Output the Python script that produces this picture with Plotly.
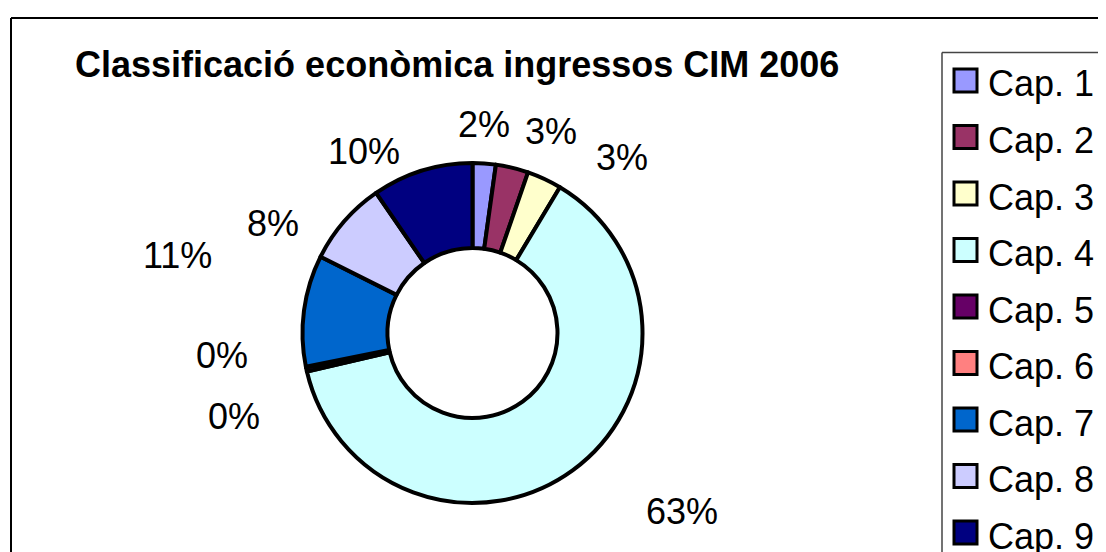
import plotly.graph_objects as go

# dades del gràfic
capitols = ['Cap. 1', 'Cap. 2', 'Cap. 3', 'Cap. 4', 'Cap. 5',
            'Cap. 6', 'Cap. 7', 'Cap. 8', 'Cap. 9']
ingressos = [2.2, 3.1, 3.3, 62.8, 0.4, 0.05, 10.6, 8.0, 9.6]
colors = ['#9999FF', '#993366', '#FFFFCC', '#CCFFFF', '#660066',
          '#FF8080', '#0066CC', '#CCCCFF', '#000080']
titol = 'Classificació econòmica ingressos CIM 2006'

# la pàgina deixa 8px de marge al body, així que la figura és una mica més petita
W, H = 1106, 552
OFF = 8
FW, FH = W - OFF, H - OFF
FONT = 'Arial, Liberation Sans, sans-serif'

def px(x):
    return (x - OFF) / FW

def py(y):
    return 1 - (y - OFF) / FH

# on Excel va deixar les etiquetes (centre del text, en píxels de la pantalla)
label_pos = [(484, 124), (551, 132), (622, 157), (682, 511), (234, 416),
             (222, 355), (178, 255), (273, 224), (364, 152)]

cx, cy, r = 472.5, 333, 170

fig = go.Figure(go.Pie(
    labels=capitols,
    values=ingressos,
    sort=False,
    direction='clockwise',
    rotation=0,
    hole=0.5,
    textinfo='none',
    hoverinfo='label+percent',
    marker=dict(colors=colors, line=dict(color='black', width=4)),
    domain=dict(x=[px(cx - r), px(cx + r)], y=[py(cy + r), py(cy - r)]),
    showlegend=False,
))

total = sum(ingressos)
annotations = []
for v, (lx, ly) in zip(ingressos, label_pos):
    annotations.append(dict(
        x=px(lx), y=py(ly), xref='paper', yref='paper',
        text=f'{round(v / total * 100)}%', showarrow=False,
        xanchor='center', yanchor='middle',
        font=dict(family=FONT, size=36, color='black'),
    ))

annotations.append(dict(
    x=px(73), y=py(65), xref='paper', yref='paper', text=f'<b>{titol}</b>',
    showarrow=False, xanchor='left', yanchor='middle',
    font=dict(family=FONT, size=36, color='black'),
))

shapes = [
    # vora del gràfic
    dict(type='line', xref='paper', yref='paper', x0=px(11), x1=px(W + 5),
         y0=py(18), y1=py(18), line=dict(color='black', width=2)),
    dict(type='line', xref='paper', yref='paper', x0=px(11), x1=px(11),
         y0=py(18), y1=py(H + 5), line=dict(color='black', width=2)),
    # caixa de la llegenda
    dict(type='line', xref='paper', yref='paper', x0=px(942), x1=px(W + 5),
         y0=py(52.5), y1=py(52.5), line=dict(color='#444444', width=1.5)),
    dict(type='line', xref='paper', yref='paper', x0=px(942), x1=px(942),
         y0=py(52.5), y1=py(H + 5), line=dict(color='#444444', width=1.5)),
]

# llegenda feta a mà
for i, (nom, col) in enumerate(zip(capitols, colors)):
    yc = 80.5 + 56.5 * i
    shapes.append(dict(
        type='rect', xref='paper', yref='paper',
        x0=px(954), x1=px(977), y0=py(yc + 11.5), y1=py(yc - 11.5),
        fillcolor=col, line=dict(color='black', width=3),
    ))
    annotations.append(dict(
        x=px(986), y=py(yc + 3.5), xref='paper', yref='paper', text=nom,
        showarrow=False, xanchor='left', yanchor='middle',
        font=dict(family=FONT, size=36, color='black'),
    ))

fig.update_layout(
    width=FW, height=FH,
    margin=dict(l=0, r=0, t=0, b=0),
    paper_bgcolor='white',
    plot_bgcolor='white',
    annotations=annotations,
    shapes=shapes,
)

fig.write_html('out.html')
